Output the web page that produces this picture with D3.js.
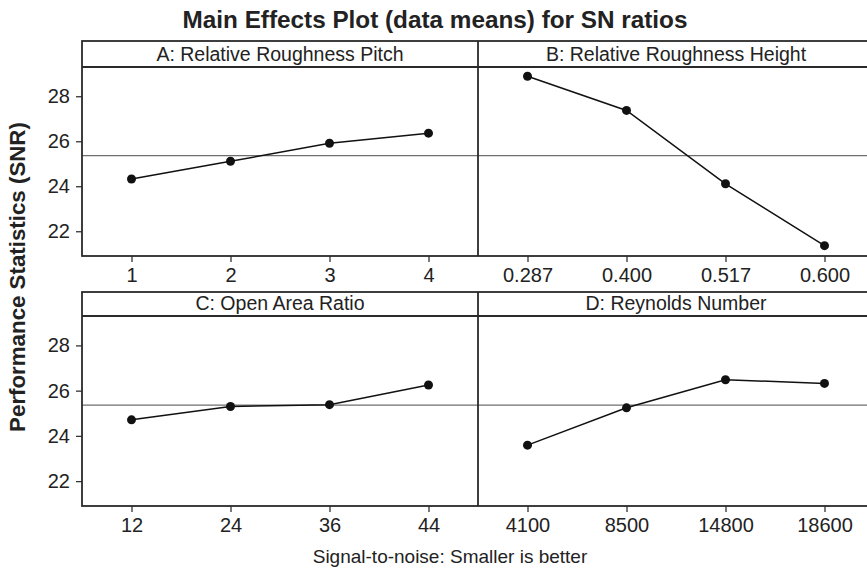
<!DOCTYPE html>
<html>
<head>
<meta charset="utf-8">
<script src="https://cdn.jsdelivr.net/npm/d3@7"></script>
<style>
  body { margin: 0; background: #fff; }
  svg { display: block; font-family: "Liberation Sans", Arial, sans-serif; }
  .tick text { font-size: 20px; fill: #222; }
  .tick line { stroke: #333; stroke-width: 1.3; }
  .domain { display: none; }
</style>
</head>
<body>
<svg></svg>
<script>
const factorTitles = [
  "A: Relative Roughness Pitch",
  "B: Relative Roughness Height",
  "C: Open Area Ratio",
  "D: Reynolds Number"
]
const levelsA = ["1", "2", "3", "4"]
const levelsB = ["0.287", "0.400", "0.517", "0.600"]
const levelsC = ["12", "24", "36", "44"]
const levelsD = ["4100", "8500", "14800", "18600"]

const snA = [24.32, 25.11, 25.91, 26.36]
const snB = [28.89, 27.37, 24.11, 21.36]
const snC = [24.71, 25.30, 25.38, 26.25]
const snD = [23.59, 25.24, 26.48, 26.32]

const yTicks = [22, 24, 26, 28]
const grandMean = 25.36

const factors = [
  { title: factorTitles[0], levels: levelsA, values: snA, row: 0, col: 0 },
  { title: factorTitles[1], levels: levelsB, values: snB, row: 0, col: 1 },
  { title: factorTitles[2], levels: levelsC, values: snC, row: 1, col: 0 },
  { title: factorTitles[3], levels: levelsD, values: snD, row: 1, col: 1 }
]

const svg = d3.select("svg")
  .attr("width", 867)
  .attr("height", 573)

const left = 82
const panelW = 396
const rows = [
  { top: 41, strip: 26, bottom: 256 },
  { top: 292, strip: 24, bottom: 506 }
]

svg.append("text")
  .attr("x", 435)
  .attr("y", 28)
  .attr("text-anchor", "middle")
  .attr("font-size", 24.3)
  .attr("font-weight", "bold")
  .attr("fill", "#222")
  .text("Main Effects Plot (data means) for SN ratios")

svg.append("text")
  .attr("transform", "translate(25, 277) rotate(-90)")
  .attr("text-anchor", "middle")
  .attr("font-size", 22.3)
  .attr("font-weight", "bold")
  .attr("fill", "#222")
  .text("Performance Statistics (SNR)")

svg.append("text")
  .attr("x", 450)
  .attr("y", 563)
  .attr("text-anchor", "middle")
  .attr("font-size", 19)
  .attr("fill", "#222")
  .text("Signal-to-noise: Smaller is better")

rows.forEach((r, ri) => {
  const stripBottom = r.top + r.strip

  const scaleY = d3.scaleLinear()
    .domain([20.9, 29.3])
    .range([r.bottom, stripBottom])

  const rowFactors = factors.filter(f => f.row === ri)

  rowFactors.forEach((f) => {
    const x0 = left + f.col * panelW
    const scaleX = d3.scalePoint()
      .domain(f.levels)
      .range([x0, x0 + panelW])
      .padding(0.5)

    const g = svg.append("g").attr("class", "panel")

    // reference line at the overall mean
    g.append("line")
      .attr("x1", x0)
      .attr("x2", x0 + panelW)
      .attr("y1", scaleY(grandMean))
      .attr("y2", scaleY(grandMean))
      .attr("stroke", "#6e6e6e")
      .attr("stroke-width", 1.4)

    const line = d3.line()
      .x((d, i) => scaleX(f.levels[i]))
      .y(d => scaleY(d))

    g.append("path")
      .datum(f.values)
      .attr("d", line)
      .attr("fill", "none")
      .attr("stroke", "#111")
      .attr("stroke-width", 1.5)

    g.selectAll("circle")
      .data(f.values)
      .enter()
      .append("circle")
      .attr("cx", (d, i) => scaleX(f.levels[i]))
      .attr("cy", d => scaleY(d))
      .attr("r", 4.5)
      .attr("fill", "#111")

    // strip title
    g.append("text")
      .attr("x", x0 + panelW / 2)
      .attr("y", stripBottom - 6)
      .attr("text-anchor", "middle")
      .attr("font-size", 19.5)
      .attr("fill", "#222")
      .text(f.title)

    const axisX = d3.axisBottom(scaleX)
      .tickSizeInner(6)
      .tickSizeOuter(0)
      .tickPadding(6)

    svg.append("g")
      .attr("class", "x-axis")
      .attr("transform", `translate(0, ${r.bottom})`)
      .call(axisX)
  })

  const axisY = d3.axisLeft(scaleY)
    .tickValues(yTicks)
    .tickSizeInner(6)
    .tickSizeOuter(0)
    .tickPadding(6)

  svg.append("g")
    .attr("class", "y-axis")
    .attr("transform", `translate(${left}, 0)`)
    .call(axisY)

  // frames
  svg.append("rect")
    .attr("x", left)
    .attr("y", r.top)
    .attr("width", panelW * 2)
    .attr("height", r.bottom - r.top)
    .attr("fill", "none")
    .attr("stroke", "#2a2a2a")
    .attr("stroke-width", 1.8)

  svg.append("line")
    .attr("x1", left)
    .attr("x2", left + panelW * 2)
    .attr("y1", stripBottom)
    .attr("y2", stripBottom)
    .attr("stroke", "#2a2a2a")
    .attr("stroke-width", 1.8)

  svg.append("line")
    .attr("x1", left + panelW)
    .attr("x2", left + panelW)
    .attr("y1", r.top)
    .attr("y2", r.bottom)
    .attr("stroke", "#2a2a2a")
    .attr("stroke-width", 1.8)
})
</script>
</body>
</html>
